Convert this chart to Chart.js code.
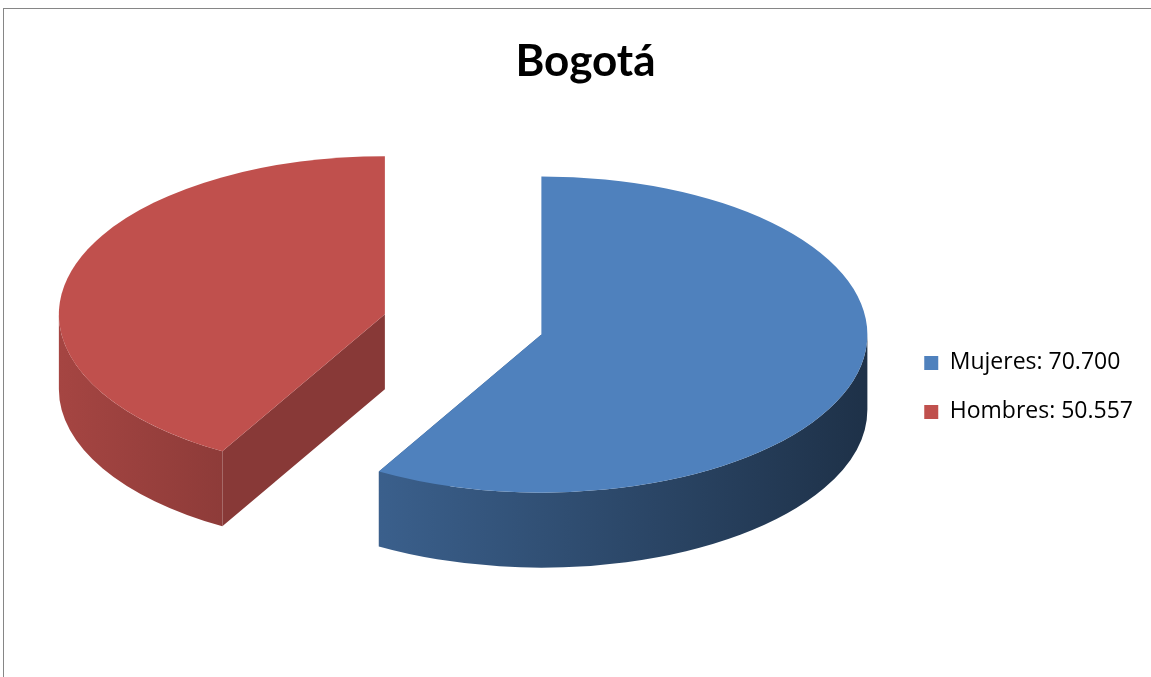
<!DOCTYPE html>
<html>
<head>
<meta charset="utf-8">
<title>Bogotá</title>
<script src="https://cdn.jsdelivr.net/npm/chart.js@4.4.0/dist/chart.umd.min.js"></script>
<style>
  html, body { margin: 0; padding: 0; background: #fff; overflow: hidden; }
  #marco { position: absolute; left: 3px; top: 8px; width: 1148px; height: 670px; border: 1px solid #868686; background: #fff; }
  #marco canvas { display: block; }
</style>
</head>
<body>
<div id="marco"><canvas id="grafico"></canvas></div>
<script>
// datos
var titulo = 'Bogotá';
var categorias = ['Mujeres', 'Hombres'];
var poblacion = [70700, 50557];
var colores = ['#4f81bd', '#c0504d'];

// 70700 -> "70.700"
function formato(n) {
  return String(n).replace(/\B(?=(\d{3})+(?!\d))/g, '.');
}

// oscurece un color hex por un factor
function sombra(hex, f) {
  var r = parseInt(hex.slice(1, 3), 16);
  var g = parseInt(hex.slice(3, 5), 16);
  var b = parseInt(hex.slice(5, 7), 16);
  return 'rgb(' + Math.round(r * f) + ',' + Math.round(g * f) + ',' + Math.round(b * f) + ')';
}

// dibuja las porciones como un pastel inclinado con grosor
const pastel3d = {
  id: 'pastel3d',
  beforeDatasetsDraw(chart, args, opts) {
    const ctx = chart.ctx;
    const meta = chart.getDatasetMeta(0);
    const tilt = opts.tilt, depth = opts.depth;

    const porciones = meta.data.map(function (arc) {
      const p = arc.getProps(['x', 'y', 'startAngle', 'endAngle', 'outerRadius'], true);
      const mid = (p.startAngle + p.endAngle) / 2;
      const off = arc.options.offset || 0;
      return {
        a0: p.startAngle,
        a1: p.endAngle,
        r: p.outerRadius,
        cx: p.x + Math.cos(mid) * off,
        cy: p.y - opts.lift + Math.sin(mid) * off * tilt,
        color: arc.options.backgroundColor
      };
    }).sort(function (a, b) { return a.cy - b.cy; });

    ctx.save();
    porciones.forEach(function (s) {
      const ry = s.r * tilt;
      const pt = function (a) { return [s.cx + s.r * Math.cos(a), s.cy + ry * Math.sin(a)]; };

      // caras del corte
      ctx.fillStyle = sombra(s.color, opts.faceShade);
      [s.a0, s.a1].forEach(function (a) {
        const e = pt(a);
        ctx.beginPath();
        ctx.moveTo(s.cx, s.cy);
        ctx.lineTo(e[0], e[1]);
        ctx.lineTo(e[0], e[1] + depth);
        ctx.lineTo(s.cx, s.cy + depth);
        ctx.closePath();
        ctx.fill();
      });

      // borde exterior: solo el tramo que mira hacia el frente
      const grad = ctx.createLinearGradient(s.cx - s.r, 0, s.cx + s.r, 0);
      grad.addColorStop(0, sombra(s.color, 0.86));
      grad.addColorStop(0.5, sombra(s.color, 0.62));
      grad.addColorStop(1, sombra(s.color, 0.38));
      ctx.fillStyle = grad;
      [[0, Math.PI], [2 * Math.PI, 3 * Math.PI]].forEach(function (w) {
        const from = Math.max(s.a0, w[0]);
        const to = Math.min(s.a1, w[1]);
        if (to <= from) return;
        ctx.beginPath();
        ctx.ellipse(s.cx, s.cy, s.r, ry, 0, from, to, false);
        ctx.ellipse(s.cx, s.cy + depth, s.r, ry, 0, to, from, true);
        ctx.closePath();
        ctx.fill();
      });

      // cara superior
      ctx.fillStyle = s.color;
      ctx.beginPath();
      ctx.moveTo(s.cx, s.cy);
      ctx.ellipse(s.cx, s.cy, s.r, ry, 0, s.a0, s.a1, false);
      ctx.closePath();
      ctx.fill();
    });
    ctx.restore();
    return false;
  }
};

new Chart(document.getElementById('grafico'), {
  type: 'pie',
  data: {
    labels: categorias,
    datasets: [{
      data: poblacion,
      backgroundColor: colores,
      borderWidth: 0,
      offset: 81,
      radius: 326
    }]
  },
  options: {
    responsive: true,
    maintainAspectRatio: false,
    animation: false,
    layout: { padding: { left: 24, right: 9, bottom: 12 } },
    plugins: {
      title: {
        display: true,
        text: titulo,
        color: '#000',
        font: { family: 'Lato', size: 44, weight: 'bold' },
        padding: { top: 26, bottom: 20 }
      },
      legend: {
        position: 'right',
        fullSize: false,
        labels: {
          boxWidth: 14,
          boxHeight: 14,
          padding: 26,
          color: '#000',
          font: { family: 'Open Sans', size: 23 },
          generateLabels: function (chart) {
            const items = Chart.overrides.pie.plugins.legend.labels.generateLabels(chart);
            items.forEach(function (it, i) {
              it.text = categorias[i] + ': ' + formato(poblacion[i]);
              it.lineWidth = 0;
            });
            return items;
          }
        }
      },
      tooltip: { enabled: false },
      pastel3d: { tilt: 0.485, depth: 75, lift: 63, faceShade: 0.71 }
    }
  },
  plugins: [pastel3d]
});
</script>
</body>
</html>
